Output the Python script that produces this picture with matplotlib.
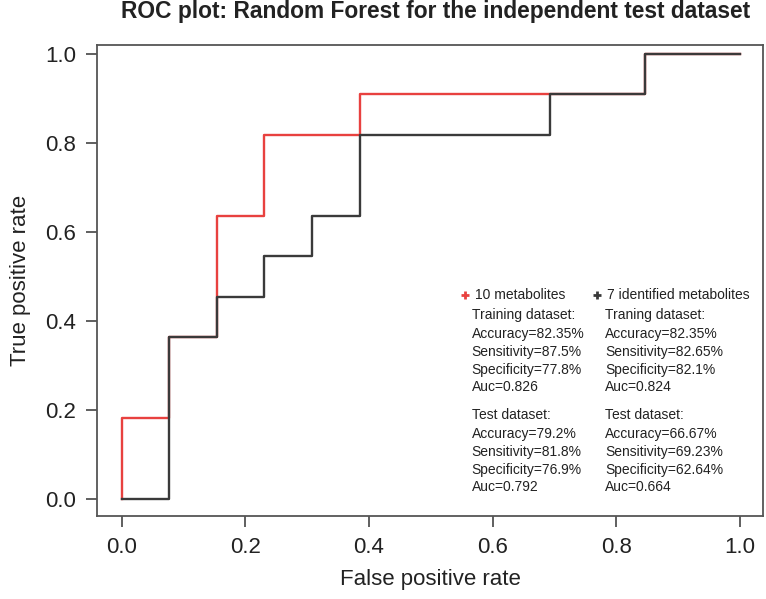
import numpy as np
import matplotlib.pyplot as plt

plt.rcParams['font.family'] = ['Liberation Sans', 'DejaVu Sans']

################################################################################
#                                   Data                                       #
################################################################################
# ROC punten (stapfunctie): 13 negatieven, 11 positieven
fpr_10 = [0, 0, 1/13, 1/13, 2/13, 2/13, 3/13, 3/13, 5/13, 5/13, 9/13, 11/13, 11/13, 1]
tpr_10 = [0, 2/11, 2/11, 4/11, 4/11, 7/11, 7/11, 9/11, 9/11, 10/11, 10/11, 10/11, 1, 1]

fpr_7 = [0, 1/13, 1/13, 2/13, 2/13, 3/13, 3/13, 4/13, 4/13, 5/13, 5/13, 9/13, 9/13, 11/13, 11/13, 1]
tpr_7 = [0, 0, 4/11, 4/11, 5/11, 5/11, 6/11, 6/11, 7/11, 7/11, 9/11, 9/11, 10/11, 10/11, 1, 1]

labels = ["10 metabolites", "7 identified metabolites"]
train_head = ["Training dataset:", "Traning dataset:"]
train_stats = [["Accuracy=82.35%", "Sensitivity=87.5%", "Specificity=77.8%", "Auc=0.826"],
               ["Accuracy=82.35%", "Sensitivity=82.65%", "Specificity=82.1%", "Auc=0.824"]]
test_stats = [["Accuracy=79.2%", "Sensitivity=81.8%", "Specificity=76.9%", "Auc=0.792"],
              ["Accuracy=66.67%", "Sensitivity=69.23%", "Specificity=62.64%", "Auc=0.664"]]
kleuren = ["#e8413f", "#3a3a3a"]

################################################################################
#                                   Figuur                                     #
################################################################################
fig = plt.figure(figsize=(7.66, 5.99), dpi=100)
ax = fig.add_axes([0.1266, 0.1386, 0.996 - 0.1266, 0.9249 - 0.1386])

ax.plot(fpr_10, tpr_10, color=kleuren[0], lw=1.7)
ax.plot(fpr_7, tpr_7, color=kleuren[1], lw=1.7)

ax.set_xlim(-0.04, 1.037)
ax.set_ylim(-0.038, 1.02)
ticks = np.arange(0, 1.01, 0.2)
ax.set_xticks(ticks)
ax.set_yticks(ticks)
ax.set_xticklabels(["%.1f" % t for t in ticks])
ax.set_yticklabels(["%.1f" % t for t in ticks])
ax.tick_params(labelsize=16, length=8, width=1.2, color='#444', labelcolor='#222', pad=7)
for s in ax.spines.values():
    s.set_color('#555')
    s.set_linewidth(1.3)

ax.set_xlabel("False positive rate", fontsize=16, color='#222', labelpad=8)
ax.set_ylabel("True positive rate", fontsize=16, color='#222', labelpad=10)
fig.text(0.568, 0.98, "ROC plot: Random Forest for the independent test dataset",
         ha='center', va='center', fontsize=16.4, fontweight='bold', color='#222')

# legenda met statistieken
xm = [0.555, 0.769]
xt = [0.566, 0.782]
fs = 10
for k in range(2):
    ax.plot(xm[k], 0.458, marker='+', color=kleuren[k], ms=6, mew=2)
    ax.text(xm[k] + 0.016, 0.458, labels[k], fontsize=fs, va='center', color='#222')
    ax.text(xt[k], 0.413, train_head[k], fontsize=fs, va='center', color='#222')
    for i, yy in enumerate([0.371, 0.330, 0.290, 0.252]):
        ax.text(xt[k], yy, train_stats[k][i], fontsize=fs, va='center', color='#222')
    ax.text(xt[k], 0.189, "Test dataset:", fontsize=fs, va='center', color='#222')
    for i, yy in enumerate([0.146, 0.106, 0.065, 0.027]):
        ax.text(xt[k], yy, test_stats[k][i], fontsize=fs, va='center', color='#222')

plt.savefig("out.png", dpi=100)
